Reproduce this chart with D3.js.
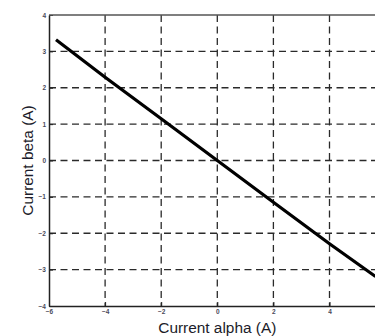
<!DOCTYPE html>
<html>
<head>
<meta charset="utf-8">
<script src="https://cdn.jsdelivr.net/npm/d3@7"></script>
<style>
  body { margin: 0; background: #fff; }
  svg { display: block; }
</style>
</head>
<body>
<svg id="chart" width="375" height="336"></svg>
<script>
// data
const alphaVals = [-5.75, -4, -2, 0, 2, 4, 5.64];
const betaVals = [3.32, 2.29, 1.15, 0, -1.15, -2.29, -3.19];
const xTicks = [-6, -4, -2, 0, 2, 4];
const yTicks = [-4, -3, -2, -1, 0, 1, 2, 3, 4];

const svg = d3.select("#chart");
const width = 375, height = 336;
const margin = { top: 15, left: 49, bottom: 30 };

// x axis runs past the right edge (the picture is cropped)
const x = d3.scaleLinear().domain([-6, 6]).range([margin.left, margin.left + 12 * 28.05]);
const y = d3.scaleLinear().domain([-4, 4]).range([height - margin.bottom, margin.top]);

// grid
const grid = svg.append("g")
    .attr("stroke", "#2a2a2a")
    .attr("stroke-width", 1.3)
    .attr("stroke-dasharray", "7,4.5");

grid.selectAll(".gx").data(xTicks.filter(d => d > -6))
  .join("line")
    .attr("x1", d => x(d)).attr("x2", d => x(d))
    .attr("y1", y(4)).attr("y2", y(-4));

grid.selectAll(".gy").data(yTicks.filter(d => d > -4 && d < 4))
  .join("line")
    .attr("x1", x(-6)).attr("x2", width)
    .attr("y1", d => y(d)).attr("y2", d => y(d));

// axes
const xAxis = svg.append("g")
    .attr("transform", `translate(0,${y(-4)})`)
    .call(d3.axisBottom(x).tickValues(xTicks).tickSize(-4).tickPadding(5).tickSizeOuter(0));
const yAxis = svg.append("g")
    .attr("transform", `translate(${x(-6)},0)`)
    .call(d3.axisLeft(y).tickValues(yTicks).tickSize(-4).tickPadding(3).tickSizeOuter(0));

[xAxis, yAxis].forEach(a => {
  a.select(".domain").attr("stroke", "#222").attr("stroke-width", 1.5);
  a.selectAll(".tick line").attr("stroke", "#222");
  a.selectAll("text")
    .attr("font-family", "Liberation Sans, Arial, sans-serif")
    .attr("font-size", 6.5)
    .attr("font-weight", "bold")
    .attr("fill", "#4a4a5a");
});
xAxis.selectAll("text").attr("dy", "0.5em");

// top border
svg.append("line")
    .attr("x1", x(-6)).attr("x2", width)
    .attr("y1", y(4)).attr("y2", y(4))
    .attr("stroke", "#555").attr("stroke-width", 1.5);

// current trajectory
const pts = alphaVals.map((a, i) => ({ a: a, b: betaVals[i] }));
svg.append("path")
    .datum(pts)
    .attr("fill", "none")
    .attr("stroke", "#000")
    .attr("stroke-width", 3.2)
    .attr("d", d3.line().x(d => x(d.a)).y(d => y(d.b)));

// axis labels
svg.append("text")
    .attr("x", x(0)).attr("y", 333)
    .attr("text-anchor", "middle")
    .attr("font-family", "Liberation Sans, Arial, sans-serif")
    .attr("font-size", 15.4)
    .attr("fill", "#1c1c2a")
    .text("Current alpha (A)");

svg.append("text")
    .attr("transform", `translate(33,${y(0)}) rotate(-90)`)
    .attr("text-anchor", "middle")
    .attr("font-family", "Liberation Sans, Arial, sans-serif")
    .attr("font-size", 15.4)
    .attr("fill", "#1c1c2a")
    .text("Current beta (A)");
</script>
</body>
</html>
